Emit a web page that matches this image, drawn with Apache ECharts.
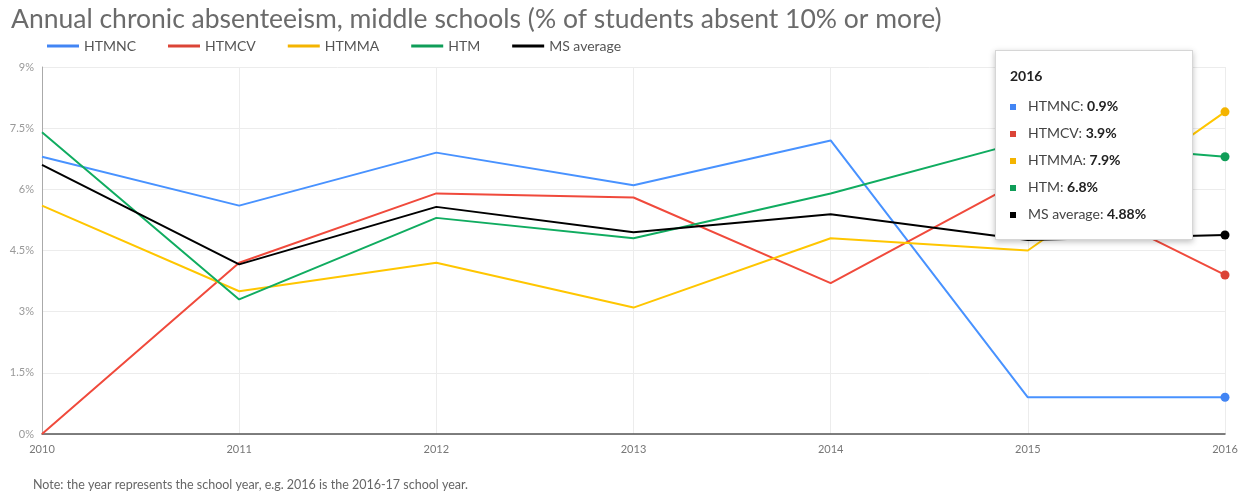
<!DOCTYPE html>
<html>
<head>
<meta charset="utf-8">
<script src="https://cdn.jsdelivr.net/npm/echarts@6/dist/echarts.min.js"></script>
<style>
html,body{margin:0;padding:0;background:#fff;}
#c{width:1249px;height:492px;}
</style>
</head>
<body>
<div id="c"></div>
<script>
const years = ['2010','2011','2012','2013','2014','2015','2016'];
const seriesNames = ['HTMNC','HTMCV','HTMMA','HTM','MS average'];
const htmnc = [6.8, 5.6, 6.9, 6.1, 7.2, 0.9, 0.9];
const htmcv = [0, 4.2, 5.9, 5.8, 3.7, 6.3, 3.9];
const htmma = [5.6, 3.5, 4.2, 3.1, 4.8, 4.5, 7.9];
const htm = [7.4, 3.3, 5.3, 4.8, 5.9, 7.2, 6.8];
const msAverage = [6.6, 4.16, 5.57, 4.95, 5.39, 4.76, 4.88];
const yTicks = ['0%','1.5%','3%','4.5%','6%','7.5%','9%'];
const colors = ['#4285F4','#DB4437','#F4B400','#0F9D58','#000000'];
const noteText = 'Note: the year represents the school year, e.g. 2016 is the 2016-17 school year.';
const titleText = 'Annual chronic absenteeism, middle schools (% of students absent 10% or more)';

const FONT = 'Lato, "Open Sans", sans-serif';
const dataSets = [htmnc, htmcv, htmma, htm, msAverage];

const chart = echarts.init(document.getElementById('c'), null, {renderer:'canvas'});
const option = {
  animation: false,
  color: colors,
  textStyle: {fontFamily: FONT},
  title: [
    {text: titleText, left: 6, top: 1,
     textStyle: {fontFamily: FONT, fontSize: 26.5, fontWeight: 'normal', color: '#6b6b6b'}},
    {text: noteText, left: 28, top: 473,
     textStyle: {fontFamily: FONT, fontSize: 12.5, fontWeight: 'normal', color: '#666'}}
  ],
  legend: {
    left: 42, top: 34,
    itemWidth: 32, itemHeight: 3, itemGap: 32,
    icon: 'rect',
    textStyle: {fontFamily: FONT, fontSize: 14, color: '#555'},
    data: seriesNames
  },
  grid: {left: 42, right: 24, top: 67, bottom: 58, containLabel: false},
  tooltip: {
    trigger: 'axis',
    alwaysShowContent: true,
    position: [995, 50],
    backgroundColor: '#fff',
    borderColor: '#d6d6d6',
    borderWidth: 1,
    padding: [14, 14, 12, 14],
    extraCssText: 'box-shadow:0 2px 6px rgba(0,0,0,0.25);border-radius:0;width:168px;',
    axisPointer: {type: 'none'},
    formatter: function(params){
      let s = '<div style="font-family:Lato,sans-serif;font-weight:bold;font-size:14px;color:#222;margin-bottom:6px;">' + params[0].axisValue + '</div>';
      params.forEach(function(p){
        s += '<div style="font-family:Lato,sans-serif;font-size:14px;color:#444;line-height:27px;">' +
             '<span style="display:inline-block;width:6px;height:6px;background:' + p.color + ';margin-right:12px;vertical-align:middle;"></span>' +
             p.seriesName + ': <b style="color:#222">' + p.value + '%</b></div>';
      });
      return s;
    }
  },
  xAxis: {
    type: 'category',
    data: years,
    boundaryGap: false,
    axisLine: {lineStyle: {color: '#555', width: 1.5}},
    axisTick: {show: false},
    axisLabel: {color: '#777', fontSize: 11, fontFamily: FONT, margin: 10},
    splitLine: {show: true, lineStyle: {color: '#ececec'}}
  },
  yAxis: {
    type: 'value',
    min: 0, max: 9, interval: 1.5,
    axisLine: {show: true, lineStyle: {color: '#aaa'}},
    axisTick: {show: false},
    axisLabel: {color: '#999', fontSize: 11, fontFamily: FONT, margin: 8,
      formatter: function(v){ return yTicks[Math.round(v/1.5)]; }},
    splitLine: {lineStyle: {color: '#ececec'}}
  },
  series: seriesNames.map(function(n, i){
    return {
      name: n, type: 'line', data: dataSets[i],
      showSymbol: false, symbol: 'circle', symbolSize: 9,
      lineStyle: {width: 2},
      emphasis: {scale: false, lineStyle: {width: 2}}
    };
  })
};
chart.setOption(option);
chart.dispatchAction({type: 'showTip', seriesIndex: 0, dataIndex: 6});
</script>
</body>
</html>
